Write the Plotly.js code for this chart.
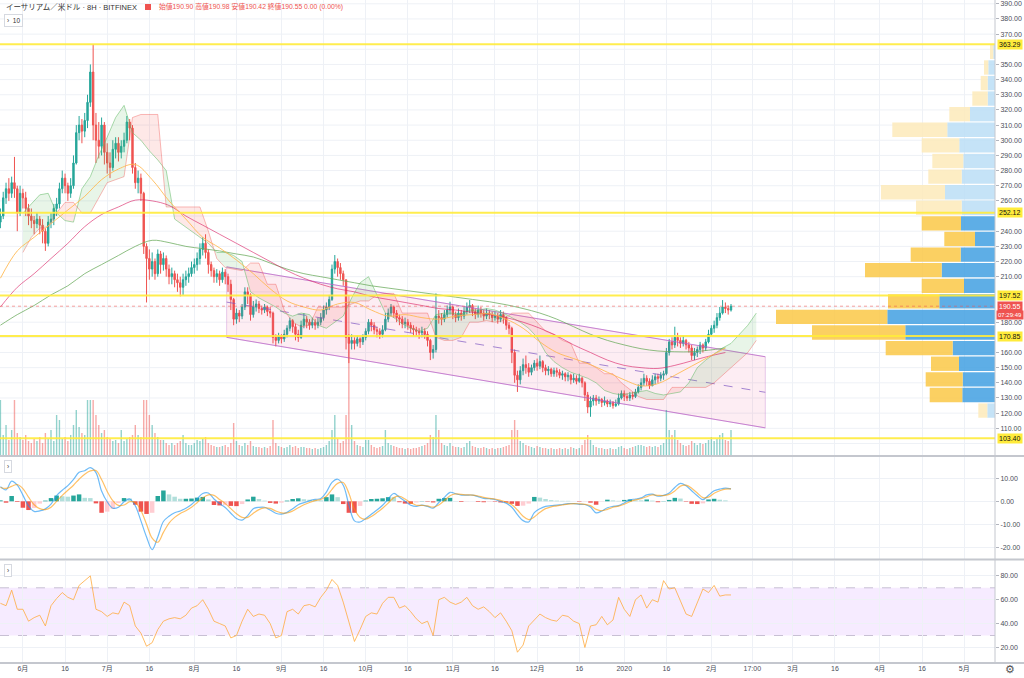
<!DOCTYPE html>
<html><head><meta charset="utf-8">
<script src="https://cdn.plot.ly/plotly-3.0.1.min.js"></script>
<style>html,body{margin:0;padding:0;background:#fff}#chart{width:1024px;height:678px}</style>
</head><body><div id="chart"></div>
<script>
// ---------- daily candles (start 2019-05-24) ----------
const candleStart = '2019-05-24';
const firstOpen = 246;
const closes = [250,262,268,265,272,268,252,265,
262,255,250,247,245,248,244,240,232,246,
248,255,258,268,275,270,265,270,285,305,
310,306,313,325,345,310,300,296,310,292,
285,282,294,298,292,296,300,312,308,282,
272,275,265,230,222,215,220,212,225,218,
222,215,210,212,208,206,203,208,210,212,
216,218,222,228,232,226,218,214,210,212,
208,213,210,205,195,182,186,184,190,200,
198,185,190,192,189,188,190,187,186,170,
168,171,169,172,176,181,177,172,170,178,
182,180,178,180,178,180,183,188,190,195,
215,220,216,212,208,170,166,168,166,169,
167,170,174,180,178,175,174,172,175,182,
186,190,186,183,182,179,180,178,176,175,
174,173,174,172,168,160,162,184,183,182,
185,188,190,185,183,186,184,187,190,191,
187,185,188,186,184,186,185,183,184,182,
185,183,178,176,160,145,142,148,152,150,
147,150,153,151,154,150,148,149,146,148,
147,145,146,144,145,142,143,141,143,140,
132,124,128,130,128,129,127,128,126,127,
125,126,130,133,131,130,132,131,134,137,
140,143,141,138,142,144,143,145,146,160,
167,165,170,168,166,168,165,163,158,160,
162,165,163,167,172,176,178,183,186,190,
189,188,190.55];
const highs = [255,266,272,275,276,289,270,270,
268,266,258,255,250,252,250,248,242,250,
252,258,262,272,280,278,272,275,290,310,
316,314,318,330,350,363.29,318,312,315,312,
298,292,300,302,302,300,305,316,314,310,
285,280,278,266,232,228,226,222,228,227,
226,224,218,216,214,212,210,212,214,216,
220,222,226,232,236,238,228,220,216,215,
214,216,215,212,208,196,189,188,192,203,
203,199,194,195,194,191,192,191,190,187,
172,173,172,175,178,183,182,179,175,181,
186,184,182,183,182,183,186,191,193,198,
218,224.3,222,219,214,208,172,172,170,171,
170,172,176,182,182,180,177,176,178,186,
189,192,191,188,185,184,183,182,180,178,
177,176,177,176,174,169,165,199,188,186,
188,191,193.5,191,187,189,188,190,193,194.6,
192,189,191,190,188,189,188,187,187,186,
188,187,184,180,177,162,148,151,156,158,
153,152,155,156,158,155,152,151,150,150,
150,149,148,147,147,146,146,145,146,144,
141,134,131,132,132,131,130,131,129,129,
128,129,133,135,135,133,134,134,136,139,
143,146,145,143,145,146,146,147,148,163,
169,170,177,173,170,171,169,167,165,163,
164,167,166,169,175,178,181,186,190,194.6,
193,191,192];
const lows = [242,248,258,260,262,262,240,250,
255,250,244,242,238,242,238,232,227,230,
242,244,250,255,265,265,260,262,268,284,
300,298,302,308,322,300,285,288,290,284,
278,275,280,288,286,288,292,298,300,278,
268,265,260,225,193,208,210,208,210,212,
214,210,205,205,203,200,197,198,204,206,
210,212,214,218,224,222,212,210,206,206,
204,206,205,200,188,178,179,180,182,188,
192,181,183,187,186,185,186,184,183,166,
164,166,166,167,170,174,173,168,167,169,
176,176,175,176,175,176,178,181,185,188,
194,212,210,208,204,162,153,162,162,164,
163,165,168,172,174,172,170,169,170,174,
180,184,183,180,178,176,176,175,173,171,
171,169,170,169,164,155,156,160,179,178,
180,183,185,182,180,181,181,182,185,186,
184,182,183,183,181,182,182,180,181,179,
180,179,175,172,153,140,134,139,145,146,
144,145,148,148,149,147,145,145,144,144,
144,143,142,141,141,139,140,139,140,137,
128,120,117.6,125,125,126,124,125,124,124,
123,124,125,129,128,128,128,129,130,133,
135,138,138,136,138,139,140,141,142,145,
158,162,163,164,163,164,162,160,155,155,
157,159,160,161,166,171,173,176,181,185,
186,185,187];
const volumes = [55,20,30,15,25,55,22,18,
15,20,14,12,16,14,18,12,22,16,
25,14,40,35,16,18,14,20,30,45,
28,22,20,55,55,55,40,30,22,25,
18,16,14,15,12,25,14,16,18,20,
30,20,18,55,55,40,30,22,18,15,
15,12,10,12,10,12,14,20,12,10,
10,12,15,14,16,18,12,10,9,8,
8,9,10,8,12,32,14,10,9,12,
10,14,9,8,8,7,8,7,9,35,
12,9,8,7,8,10,8,9,7,8,
8,7,7,6,7,6,7,8,10,14,
25,40,16,12,14,40,160,30,14,10,
9,8,15,15,10,8,7,8,9,25,
12,10,9,8,7,7,6,7,6,7,
7,8,9,10,12,20,18,40,25,12,
10,9,12,9,8,8,7,8,12,14,
9,8,7,7,8,7,6,7,6,7,
7,8,9,10,25,35,25,14,12,10,
9,8,7,9,8,7,7,6,7,6,
6,7,6,7,6,8,7,6,7,10,
15,20,15,10,8,7,7,6,6,7,
6,6,8,9,7,6,7,8,9,10,
10,9,8,9,8,9,8,10,12,45,
25,20,25,15,12,10,9,10,14,12,
10,12,11,12,15,18,14,16,20,22,
15,14,25];

// ---------- indicators, every 2 days from 2019-05-24 ----------
const indStart = '2019-05-24';
const macdLine = [6.4,5.0,8.8,7.0,2.7,-2.0,-4.4,-4.2,-3.3,-1.2,
 2.5,4.8,6.8,9.5,12.6,13.3,14.6,12.5,4.5,-0.2,
 -3.0,-2.6,-0.2,1.0,-2.0,-8.5,-15.5,-21.0,-15.5,-8.8,
 -6.5,-5.0,-4.2,-3.0,-1.4,1.0,3.4,3.6,1.0,-1.0,
 -2.7,-5.2,-7.5,-8.2,-6.2,-3.2,-2.6,-2.6,-3.8,-5.2,
 -5.6,-4.8,-3.2,-1.5,-0.6,0.2,0.8,1.2,4.0,8.2,
 9.6,7.0,-1.5,-8.5,-9.0,-7.5,-5.6,-3.8,-1.7,1.0,
 3.4,1.8,0.0,-1.7,-2.2,-1.7,-2.2,-3.0,-0.5,1.7,
 3.9,3.3,2.7,2.7,2.7,2.0,1.3,1.1,0.8,-0.1,
 -0.8,-2.6,-5.8,-8.4,-9.0,-4.9,-3.2,-2.2,-1.9,-1.7,
 -1.4,-1.0,-1.0,-1.3,-1.4,-2.5,-5.0,-4.2,-2.8,-2.2,
 -1.9,-0.7,0.6,1.0,1.5,2.8,3.1,2.2,2.6,3.6,
 6.0,7.8,6.8,4.6,2.4,0.7,2.6,4.6,5.3,5.7,
 5.4];
const signalLine = [6.0,5.6,6.5,7.3,5.5,1.8,-1.5,-3.2,-3.6,-2.6,
 0.0,2.6,4.8,7.0,9.6,11.8,13.2,13.4,9.5,4.3,
 0.3,-1.8,-1.6,-0.2,-0.5,-4.0,-10.0,-16.0,-17.8,-13.5,
 -9.5,-7.0,-5.3,-4.1,-2.6,-0.6,1.5,2.8,2.6,0.8,
 -1.0,-3.2,-5.4,-7.0,-7.0,-5.2,-3.6,-2.9,-3.1,-4.2,
 -5.0,-5.1,-4.2,-2.8,-1.5,-0.5,0.3,0.8,2.2,5.2,
 7.8,8.2,3.5,-3.5,-7.0,-7.8,-6.6,-4.9,-3.0,-0.8,
 1.6,2.2,1.0,-0.6,-1.7,-1.8,-2.0,-2.5,-1.6,0.3,
 2.4,3.2,3.0,2.8,2.7,2.3,1.7,1.3,1.0,0.4,
 -0.3,-1.5,-3.8,-6.5,-8.0,-6.8,-4.8,-3.2,-2.4,-2.0,
 -1.6,-1.2,-1.0,-1.1,-1.3,-1.9,-3.5,-4.1,-3.5,-2.6,
 -2.1,-1.3,-0.2,0.6,1.1,2.0,2.8,2.6,2.5,3.0,
 4.5,6.6,7.0,5.7,3.6,1.6,1.8,3.5,4.6,5.3,
 5.4];
const rsiLine = [57,55,68,52,52,42,45,47,38,55,
 61,66,62,60,72,76,80,52,50,46,
 49,48,58,55,38,32,21,24,35,42,
 44,45,44,47,53,55,60,52,42,40,
 38,28,30,42,52,46,48,47,40,28,
 30,50,52,48,55,56,54,62,68,77,
 72,58,42,25,35,46,49,48,57,62,
 62,53,55,50,44,40,42,30,60,62,
 58,56,58,62,55,52,54,50,45,49,
 42,34,16,22,38,43,48,45,43,42,
 47,46,42,40,20,38,39,46,39,43,
 62,52,46,60,64,53,60,58,76,69,
 70,59,48,46,57,69,66,72,63,64,
 64];

// ---------- moving averages, every 6 days from 2019-05-24 ----------
const maStart = '2019-05-24';
const maOrange = [209,227,236,245,254,263,274,281,284,274,260,248,236,229,221,212,202,194,190,188,192,193,188,184,185,183,182,184,185,185.5,182,176,167,160,156,152,147,142,138,139.5,145,151,157,163];
const maPink = [190,203,212,222,232,243,251,256,260.5,260,257,250,244,238,232,226,220,214,209,205,202,200,197,195,193,191,189,188,186.5,185,183,180,176,171,165,160,155,151.5,150,149.5,151.5,154.5,157.5,160];
const maGreen = [178,185,191,198,204,212,218,224,230,234,232.5,230,228.5,227,225,223,219,215,212,210,208,206,204,202.5,201,199.5,198,196.5,195,193.5,191.5,189,186,182,177,172,168,165,162.5,161,160.5,160.5,161.5,163];

// ---------- Ichimoku leading spans, every 3 days from 2019-06-01 ----------
const cloudStart = '2019-06-01';
const spanA = [252,258,264,265,252,247,246,268,276,290,302,315,323,305,300,293,287,280,248,244,240,236,232,226,226,224,220,200,196,193,190,186,184,186,185,178,176,180,184,196,206,210,198,186,183,179,176,174,176,185,186,186,185,188,188,189,188,186,183,180,176,170,160,154,150,147,145,143,140,135,133,132,133,134,135,133,132,133,134,140,150,155,159,163,166,172,178,186];
const spanB = [226,236,242,243,252,259,259,252,252,262,272,274,276,315,317,317,317,256,256,256,256,256,240,222,216,215,214,219,219,205,205,188,180,177,178,190,190,190,190,192,194,194,198,199,199,186,186,186,186,170,168,168,170,180,180,181,180,181,186,186,186,180,174,172,168,166,153,153,150,146,146,140,136,131,129,129,129,137,137,137,137,137,140,145,150,155,160,168];

// ---------- visible range volume profile ----------
const vpPrice = [121.7,132.0,142.3,152.6,162.9,173.2,183.5,193.7,204.0,214.3,224.6,234.9,245.2,255.5,265.7,276.0,286.3,296.6,306.9,317.2,327.5,337.7,348.0,358.3];
const vpUp   = [7.7,32.7,32.3,36,42.3,89.7,107.7,55.7,31,53.3,34.3,20,34,33.3,50,33.3,31.7,35.7,47.7,25,7.3,7.3,6.7,1.7];
const vpDown = [9,32.6,37,28,67,93.3,111.3,51.3,42.3,76.7,50,30.7,39.3,45.7,64,33.4,31,37.6,55,20.7,15.4,7,4.3,3.3];
const vpRowSize = 10.28;
const valueArea = [126.9, 250.2];

// ---------- drawings ----------
const hLevels = [363.29, 252.12, 197.52, 170.85, 103.40];
const lastPrice = 190.55;
const countdown = '07:29:49';
const chanDates = ['2019-08-12 12:00', '2020-02-20 05:00'];
const chanTop = [216.5, 157.2];
const chanBottom = [170.0, 110.3];

// ---------- axis labels ----------
const tickDates = ['2019-06-01','2019-06-16','2019-07-01','2019-07-16','2019-08-01','2019-08-16','2019-09-01','2019-09-16','2019-10-01','2019-10-16','2019-11-01','2019-11-16','2019-12-01','2019-12-16','2020-01-01','2020-01-16','2020-02-01','2020-02-15 14:00','2020-03-01','2020-03-16','2020-04-01','2020-04-16','2020-05-01'];
const tickLabels = ['6月','16','7月','16','8月','16','9月','16','10月','16','11月','16','12月','16','2020','16','2月','17:00','3月','16','4月','16','5月'];
// price labels left visible by the axis badges
const priceTicks = [110,120,130,140,150,160,180,210,220,230,240,260,270,280,290,300,310,320,330,340,350,370,380,390];

// ================= build =================
const DAY = 86400000;
function fmt(ms){ return new Date(ms).toISOString().slice(0,19).replace('T',' '); }
function seqMs(start, n, step){ const t0 = Date.parse(start+'T00:00:00Z'); return Array.from({length:n},(_,i)=>t0+i*step*DAY); }
const candleX = seqMs(candleStart, closes.length, 1).map(fmt);
const opens = [firstOpen].concat(closes.slice(0,-1));
const indX = seqMs(indStart, macdLine.length, 2).map(fmt);
const maX = seqMs(maStart, maOrange.length, 6).map(fmt);
const cloudMs = seqMs(cloudStart, spanA.length, 3);

const CX=[], CA=[], CB=[];
for (let i=0;i<cloudMs.length;i++){
  if (i>0){
    const d0 = spanA[i-1]-spanB[i-1], d1 = spanA[i]-spanB[i];
    if (d0*d1<0){
      const t = d0/(d0-d1);
      const xm = cloudMs[i-1]+t*(cloudMs[i]-cloudMs[i-1]);
      const ym = spanA[i-1]+t*(spanA[i]-spanA[i-1]);
      CX.push(fmt(xm)); CA.push(ym); CB.push(ym);
    }
  }
  CX.push(fmt(cloudMs[i])); CA.push(spanA[i]); CB.push(spanB[i]);
}
const CMin = CA.map((a,i)=>Math.min(a,CB[i]));

const UP='#26a69a', DN='#ef5350';
const traces = [];
traces.push({type:'scatter',mode:'lines',x:[chanDates[0],chanDates[1],chanDates[1],chanDates[0],chanDates[0]],
  y:[chanTop[0],chanTop[1],chanBottom[1],chanBottom[0],chanTop[0]],fill:'toself',fillcolor:'rgba(233,30,99,0.08)',
  line:{color:'rgba(206,147,216,0.45)',width:1},hoverinfo:'skip'});
traces.push({type:'scatter',mode:'lines',x:chanDates,y:chanTop,line:{color:'rgba(171,71,188,0.55)',width:1},hoverinfo:'skip'});
traces.push({type:'scatter',mode:'lines',x:chanDates,y:chanBottom,line:{color:'rgba(171,71,188,0.55)',width:1},hoverinfo:'skip'});
traces.push({type:'scatter',mode:'lines',x:chanDates,y:chanTop.map((t,i)=>(t+chanBottom[i])/2),line:{color:'rgba(126,87,194,0.7)',width:1,dash:'dash'},hoverinfo:'skip'});
traces.push({type:'scatter',mode:'lines',x:CX,y:CMin,line:{width:0},hoverinfo:'skip'});
traces.push({type:'scatter',mode:'lines',x:CX,y:CA,fill:'tonexty',fillcolor:'rgba(76,175,80,0.13)',line:{width:0},hoverinfo:'skip'});
traces.push({type:'scatter',mode:'lines',x:CX,y:CMin,line:{width:0},hoverinfo:'skip'});
traces.push({type:'scatter',mode:'lines',x:CX,y:CB,fill:'tonexty',fillcolor:'rgba(244,67,54,0.12)',line:{width:0},hoverinfo:'skip'});
traces.push({type:'scatter',mode:'lines',x:CX,y:CA,line:{color:'rgba(102,187,106,0.55)',width:1},hoverinfo:'skip'});
traces.push({type:'scatter',mode:'lines',x:CX,y:CB,line:{color:'rgba(239,83,80,0.4)',width:1},hoverinfo:'skip'});
traces.push({type:'scatter',mode:'lines',x:maX,y:maGreen,line:{color:'rgba(104,170,90,0.75)',width:1,shape:'spline'},hoverinfo:'skip'});
traces.push({type:'scatter',mode:'lines',x:maX,y:maPink,line:{color:'rgba(216,27,96,0.6)',width:1,shape:'spline'},hoverinfo:'skip'});
traces.push({type:'scatter',mode:'lines',x:maX,y:maOrange,line:{color:'rgba(255,183,77,0.85)',width:1,shape:'spline'},hoverinfo:'skip'});
traces.push({type:'candlestick',x:candleX,open:opens,high:highs,low:lows,close:closes,whiskerwidth:0,
  increasing:{line:{color:UP,width:1},fillcolor:UP},decreasing:{line:{color:DN,width:1},fillcolor:DN},hoverinfo:'skip',xaxis:'x',yaxis:'y'});
traces.push({type:'bar',x:candleX,y:volumes,yaxis:'y4',xaxis:'x',width:0.5*DAY,
  marker:{color:closes.map((c,i)=>c>=opens[i]?'rgba(38,166,154,0.5)':'rgba(239,83,80,0.5)'),line:{width:0}},hoverinfo:'skip'});
const inVA = p => p>valueArea[0] && p<valueArea[1];
traces.push({type:'bar',orientation:'h',xaxis:'x2',yaxis:'y',y:vpPrice,x:vpUp,base:vpUp.map(()=>0),width:vpRowSize*0.92,
  marker:{color:vpPrice.map(p=>inVA(p)?'rgba(66,160,226,0.85)':'rgba(187,222,246,0.85)'),line:{width:0}},hoverinfo:'skip'});
traces.push({type:'bar',orientation:'h',xaxis:'x2',yaxis:'y',y:vpPrice,x:vpDown,base:vpUp,width:vpRowSize*0.92,
  marker:{color:vpPrice.map(p=>inVA(p)?'rgba(250,200,70,0.85)':'rgba(253,234,186,0.85)'),line:{width:0}},hoverinfo:'skip'});
const hist = macdLine.map((m,i)=>m-signalLine[i]);
const histColor = hist.map((h,i)=>{const p=i>0?hist[i-1]:h; return h>=0?(h>=p?'#26a69a':'#b2dfdb'):(h<=p?'#ef5350':'#ffcdd2');});
traces.push({type:'bar',x:indX,y:hist,xaxis:'x',yaxis:'y2',width:1.6*DAY,marker:{color:histColor,line:{width:0}},hoverinfo:'skip'});
traces.push({type:'scatter',mode:'lines',x:indX,y:macdLine,xaxis:'x',yaxis:'y2',line:{color:'rgba(33,150,243,0.65)',width:1.2,shape:'spline'},hoverinfo:'skip'});
traces.push({type:'scatter',mode:'lines',x:indX,y:signalLine,xaxis:'x',yaxis:'y2',line:{color:'rgba(255,152,0,0.6)',width:1.2,shape:'spline'},hoverinfo:'skip'});
traces.push({type:'scatter',mode:'lines',x:indX,y:rsiLine,xaxis:'x',yaxis:'y3',line:{color:'rgba(255,171,64,0.8)',width:1},hoverinfo:'skip'});

// ---------- layout ----------
const H = 663;
const py = px => (H-px)/H;
const shapes = [];
hLevels.forEach(v=>shapes.push({type:'line',xref:'paper',yref:'y',x0:0,x1:1,y0:v,y1:v,line:{color:'rgba(255,235,59,0.9)',width:2},layer:'above'}));
shapes.push({type:'line',xref:'paper',yref:'y',x0:0,x1:1,y0:lastPrice,y1:lastPrice,line:{color:'rgba(239,83,80,0.55)',width:1,dash:'dot'},layer:'above'});
shapes.push({type:'rect',xref:'paper',yref:'y3',x0:0,x1:1,y0:30,y1:70,fillcolor:'rgba(186,104,255,0.13)',line:{width:0},layer:'below'});
[30,70].forEach(v=>shapes.push({type:'line',xref:'paper',yref:'y3',x0:0,x1:1,y0:v,y1:v,line:{color:'rgba(150,140,170,0.5)',width:1,dash:'dash'},layer:'below'}));
shapes.push({type:'line',xref:'paper',yref:'paper',x0:0,x1:1.03,y0:py(456),y1:py(456),line:{color:'#c4c7ce',width:2},layer:'above'});
shapes.push({type:'line',xref:'paper',yref:'paper',x0:0,x1:1.03,y0:py(559.5),y1:py(559.5),line:{color:'#c4c7ce',width:2},layer:'above'});
shapes.push({type:'line',xref:'paper',yref:'paper',x0:0,x1:1.03,y0:0,y1:0,line:{color:'#c4c7ce',width:2},layer:'above'});
shapes.push({type:'line',xref:'paper',yref:'paper',x0:1,x1:1,y0:0,y1:1,line:{color:'#c4c7ce',width:1},layer:'above'});
shapes.push({type:'rect',xref:'paper',yref:'paper',x0:145/995,x1:151/995,y0:py(10),y1:py(4),fillcolor:'#ef5350',line:{width:0}});

const annotations = [];
hLevels.forEach(v=>annotations.push({xref:'paper',yref:'y',x:1,y:v,xanchor:'left',xshift:2,text:v.toFixed(2),showarrow:false,
  bgcolor:'#ffeb3b',font:{size:7,color:'#111'},borderpad:1}));
annotations.push({xref:'paper',yref:'y',x:1,y:lastPrice,xanchor:'left',xshift:2,text:lastPrice.toFixed(2),showarrow:false,bgcolor:'#ef5350',font:{size:7,color:'#fff'},borderpad:1});
annotations.push({xref:'paper',yref:'y',x:1,y:lastPrice,yshift:-9,xanchor:'left',xshift:1,text:countdown,showarrow:false,bgcolor:'#ef5350',font:{size:6,color:'#fff'},borderpad:1});
annotations.push({xref:'paper',yref:'paper',x:4/995,y:py(7),xanchor:'left',yanchor:'middle',showarrow:false,
  text:'イーサリアム／米ドル · 8H · BITFINEX',font:{size:7.5,color:'#333'}});
annotations.push({xref:'paper',yref:'paper',x:157/995,y:py(7),xanchor:'left',yanchor:'middle',showarrow:false,
  text:'始値190.90 高値190.98 安値190.42 終値190.55 0.00 (0.00%)',font:{size:6.8,color:'#ef5350'}});
annotations.push({xref:'paper',yref:'paper',x:4/995,y:py(20),xanchor:'left',yanchor:'middle',showarrow:false,
  text:'›  10',font:{size:6.5,color:'#333'},bordercolor:'#d6d9e0',borderwidth:1,borderpad:2,bgcolor:'#fff'});
[467,570].forEach(p=>annotations.push({xref:'paper',yref:'paper',x:4/995,y:py(p),xanchor:'left',yanchor:'middle',showarrow:false,
  text:'›',font:{size:6.5,color:'#333'},bordercolor:'#d6d9e0',borderwidth:1,borderpad:2,bgcolor:'#fff'}));
annotations.push({xref:'paper',yref:'paper',x:1010/995,y:py(669),xanchor:'center',yanchor:'middle',showarrow:false,text:'⚙',font:{size:11,color:'#555'}});

const axFont = {size:7,color:'#4a4e59'};
const layout = {
  width:1024,height:678,margin:{l:0,r:29,t:0,b:15},paper_bgcolor:'#fff',plot_bgcolor:'#fff',
  showlegend:false,barmode:'overlay',hovermode:false,dragmode:false,
  font:{family:'"Liberation Sans","Noto Sans CJK JP",sans-serif',size:7,color:'#4a4e59'},
  xaxis:{type:'date',range:['2019-05-23 20:24','2020-05-11 22:48'],domain:[0,1],anchor:'y3',
    tickvals:tickDates,ticktext:tickLabels,tickangle:0,tickfont:axFont,showgrid:true,gridcolor:'#eef1f6',gridwidth:1,
    zeroline:false,showline:false,ticks:'',rangeslider:{visible:false}},
  xaxis2:{overlaying:'x',anchor:'y',range:[995,0],visible:false,showgrid:false,zeroline:false},
  yaxis:{domain:[py(455),1],range:[92.4,392.5],side:'right',anchor:'x',tickvals:priceTicks,ticktext:priceTicks.map(v=>v.toFixed(2)),
    tickfont:axFont,ticks:'outside',ticklen:3,tickcolor:'#b2b5be',showgrid:false,zeroline:false,showline:false},
  yaxis2:{domain:[py(559),py(457)],range:[-25.09,19.26],side:'right',anchor:'x',tickvals:[-20,-10,0,10],ticktext:['-20.00','-10.00','0.00','10.00'],
    tickfont:axFont,ticks:'outside',ticklen:3,tickcolor:'#b2b5be',showgrid:true,gridcolor:'#eef1f6',zeroline:false,showline:false},
  yaxis3:{domain:[0,py(561)],range:[6.96,92.46],side:'right',anchor:'x',tickvals:[20,40,60,80],ticktext:['20.00','40.00','60.00','80.00'],
    tickfont:axFont,ticks:'outside',ticklen:3,tickcolor:'#b2b5be',showgrid:true,gridcolor:'#eef1f6',zeroline:false,showline:false},
  yaxis4:{overlaying:'y',anchor:'x',range:[0,455],visible:false,showgrid:false,zeroline:false},
  shapes:shapes,annotations:annotations
};
// horizontal price grid every 10 (including rows whose label is covered by a badge)
for (let v=100; v<=390; v+=10) shapes.unshift({type:'line',xref:'paper',yref:'y',x0:0,x1:1,y0:v,y1:v,line:{color:'#eef1f6',width:1},layer:'below'});
Plotly.newPlot('chart',traces,layout,{staticPlot:true,displayModeBar:false});
</script>
</body></html>
